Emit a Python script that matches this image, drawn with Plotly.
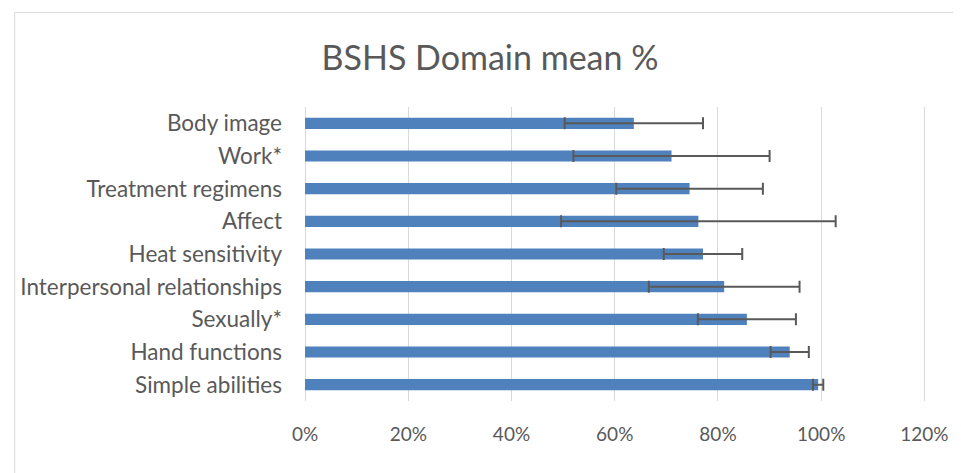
import plotly.graph_objects as go

categories = ["Body image", "Work*", "Treatment regimens", "Affect", "Heat sensitivity",
              "Interpersonal relationships", "Sexually*", "Hand functions", "Simple abilities"]
mean_pct = [63.7, 71.0, 74.5, 76.2, 77.1, 81.2, 85.6, 93.9, 99.4]
sd_pct = [13.4, 19.0, 14.2, 26.6, 7.6, 14.6, 9.5, 3.7, 1.0]
tick_vals = [0, 0.2, 0.4, 0.6, 0.8, 1.0, 1.2]

FONT = "Lato"
TXT = "#595959"

fig = go.Figure(go.Bar(
    y=categories,
    x=[m / 100 for m in mean_pct],
    orientation="h",
    marker=dict(color="#4F81BD", line=dict(width=0)),
    error_x=dict(type="data", array=[s / 100 for s in sd_pct], visible=True,
                 color="#595959", thickness=2, width=6),
    showlegend=False,
))

# page has an 8px body margin: figure is placed at (8, 8)
W, H = 953, 465
L, R, T, B = 293, 30, 99, 72
pw = W - L - R
ph = H - T - B

fig.update_layout(
    width=W, height=H,
    margin=dict(l=L, r=R, t=T, b=B),
    paper_bgcolor="white", plot_bgcolor="white",
    bargap=0.66,
    font=dict(family=FONT, color=TXT, size=19),
    title=dict(text="BSHS Domain mean %", font=dict(family=FONT, size=34, color=TXT),
               x=(490 - 8) / W, xref="container", xanchor="center",
               y=1 - 50 / H, yref="container", yanchor="middle"),
    xaxis=dict(range=[-0.002, 1.203], tickvals=tick_vals, tickformat=".0%",
               showgrid=True, gridcolor="#d9d9d9", gridwidth=1.3,
               zeroline=False, showline=False, ticks="",
               ticklabelstandoff=20, ticklabeloverflow="allow",
               tickfont=dict(size=19, color=TXT, family=FONT)),
    yaxis=dict(autorange="reversed", showgrid=False, showline=False, ticks="",
               ticklabelstandoff=21, tickfont=dict(size=22.5, color=TXT, family=FONT)),
    shapes=[dict(type="rect", xref="paper", yref="paper",
                 x0=(0 - L) / pw, x1=(W + 10 - L) / pw,
                 y0=(H - B - (H + 10)) / ph, y1=(H - B - 4.5) / ph,
                 line=dict(color="#d9d9d9", width=1), fillcolor="rgba(0,0,0,0)",
                 layer="below")],
)

fig.write_html("out.html")
